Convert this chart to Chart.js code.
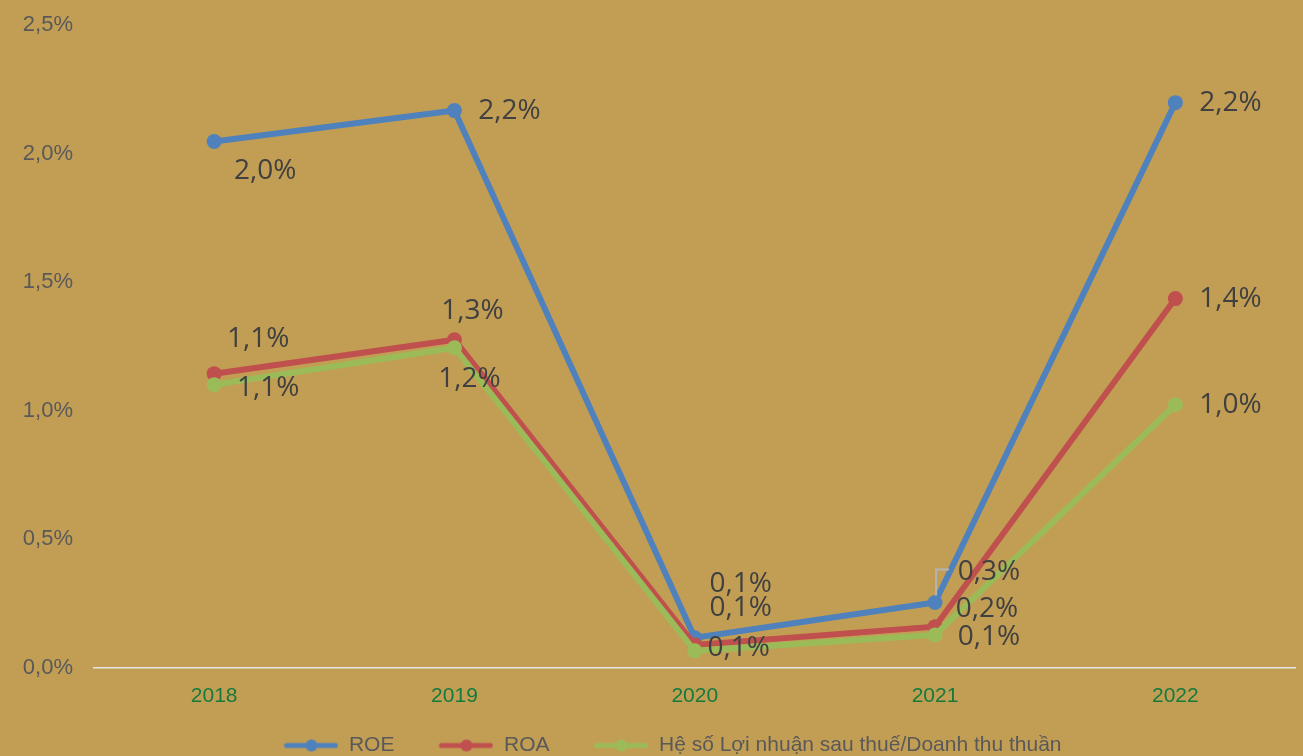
<!DOCTYPE html>
<html>
<head>
<meta charset="utf-8">
<script src="https://cdn.jsdelivr.net/npm/chart.js@4.4.0/dist/chart.umd.min.js"></script>
<style>
  html, body { margin: 0; padding: 0; background: #C29E55; overflow: hidden; }
  #wrap { position: relative; width: 1303px; height: 766px; }
</style>
</head>
<body>
<div id="wrap"><canvas id="c"></canvas></div>
<script>
// ---- Data (values in percent) ----
const categories = ['2018', '2019', '2020', '2021', '2022'];
const roe = [2.047, 2.167, 0.117, 0.254, 2.198];
const roa = [1.144, 1.276, 0.089, 0.160, 1.436];
const margin = [1.101, 1.245, 0.066, 0.128, 1.023];
const seriesNames = ['ROE', 'ROA', 'Hệ số Lợi nhuận sau thuế/Doanh thu thuần'];
const yTicks = [0, 0.5, 1.0, 1.5, 2.0, 2.5];

// ---- Label placement (offset of label centre from point, px) ----
const labelOffsets = [
  [[51, 30], [55, 0], [46, -54], [54, -30], [55, 0]],
  [[44, -35], [18, -29], [46, -37], [52, -18], [55, 0]],
  [[54, 3], [15, 31], [44, -3], [54, 2], [55, 0]]
];

const colors = ['#4F81BD', '#C0504D', '#9BBB59'];
const fmt = v => v.toFixed(1).replace('.', ',') + '%';

function markerCanvas(color) {
  const W = 89;
  const c = document.createElement('canvas');
  c.width = W; c.height = 14;
  const x = c.getContext('2d');
  x.strokeStyle = color; x.lineWidth = 5; x.lineCap = 'round';
  x.beginPath(); x.moveTo(W - 52, 7); x.lineTo(W - 3, 7); x.stroke();
  x.fillStyle = color;
  x.beginPath(); x.arc(W - 27, 7, 6, 0, Math.PI * 2); x.fill();
  return c;
}

const dataLabelPlugin = {
  id: 'dataLabels',
  afterDatasetsDraw(chart) {
    const ctx = chart.ctx;
    ctx.save();
    // leader line for ROE 2021
    const p = chart.getDatasetMeta(0).data[3];
    if (p) {
      ctx.strokeStyle = '#B4B4B4';
      ctx.lineWidth = 2;
      ctx.beginPath();
      ctx.moveTo(p.x + 1, p.y - 7);
      ctx.lineTo(p.x + 1, p.y - 33);
      ctx.lineTo(p.x + 14, p.y - 33);
      ctx.stroke();
    }
    ctx.font = '28px "Open Sans"';
    ctx.fillStyle = '#404040';
    ctx.textAlign = 'center';
    ctx.textBaseline = 'middle';
    chart.data.datasets.forEach((ds, di) => {
      const meta = chart.getDatasetMeta(di);
      meta.data.forEach((pt, i) => {
        const off = labelOffsets[di][i];
        ctx.fillText(fmt(ds.data[i]), pt.x + off[0], pt.y + off[1]);
      });
    });
    ctx.restore();
  }
};

const seriesData = [roe, roa, margin];
const datasets = seriesData.map((d, i) => ({
  label: seriesNames[i],
  data: d,
  borderColor: colors[i],
  backgroundColor: colors[i],
  borderWidth: 6,
  pointRadius: 7.5,
  pointHoverRadius: 7.5,
  pointBorderWidth: 0,
  pointBackgroundColor: colors[i],
  tension: 0,
  order: 2 - i
}));

new Chart(document.getElementById('c'), {
  type: 'line',
  data: { labels: categories, datasets },
  options: {
    responsive: true,
    maintainAspectRatio: false,
    animation: false,
    layout: { padding: { top: 25, right: -8, left: 0, bottom: 0 } },
    scales: {
      x: {
        offset: true,
        afterFit: s => { s.paddingRight = 0; s.paddingLeft = 0; },
        grid: { display: false, drawTicks: false },
        border: { display: true, color: '#E6E6E6', width: 1.5 },
        ticks: { color: '#157A3B', font: { family: '"Liberation Sans", Arial', size: 21 }, padding: 16 }
      },
      y: {
        min: 0, max: 2.5,
        afterFit: s => { s.width = 94; s.paddingTop = 0; },
        afterBuildTicks: s => { s.ticks = yTicks.map(v => ({ value: v })); },
        grid: { display: false, drawTicks: false },
        border: { display: false },
        ticks: {
          color: '#595959',
          font: { family: '"Liberation Sans", Arial', size: 22 },
          padding: 21,
          callback: v => fmt(v)
        }
      }
    },
    plugins: {
      tooltip: { enabled: false },
      legend: {
        position: 'bottom',
        labels: {
          usePointStyle: true,
          pointStyleWidth: 89,
          padding: 10,
          color: '#595959',
          font: { family: '"Liberation Sans", Arial', size: 21 },
          generateLabels: chart => chart.data.datasets.map((ds, i) => ({
            text: ds.label,
            fillStyle: ds.borderColor,
            strokeStyle: ds.borderColor,
            lineWidth: 0,
            pointStyle: markerCanvas(ds.borderColor),
            hidden: !chart.isDatasetVisible(i),
            datasetIndex: i,
            fontColor: '#595959'
          }))
        }
      }
    }
  },
  plugins: [dataLabelPlugin]
});
</script>
</body>
</html>
